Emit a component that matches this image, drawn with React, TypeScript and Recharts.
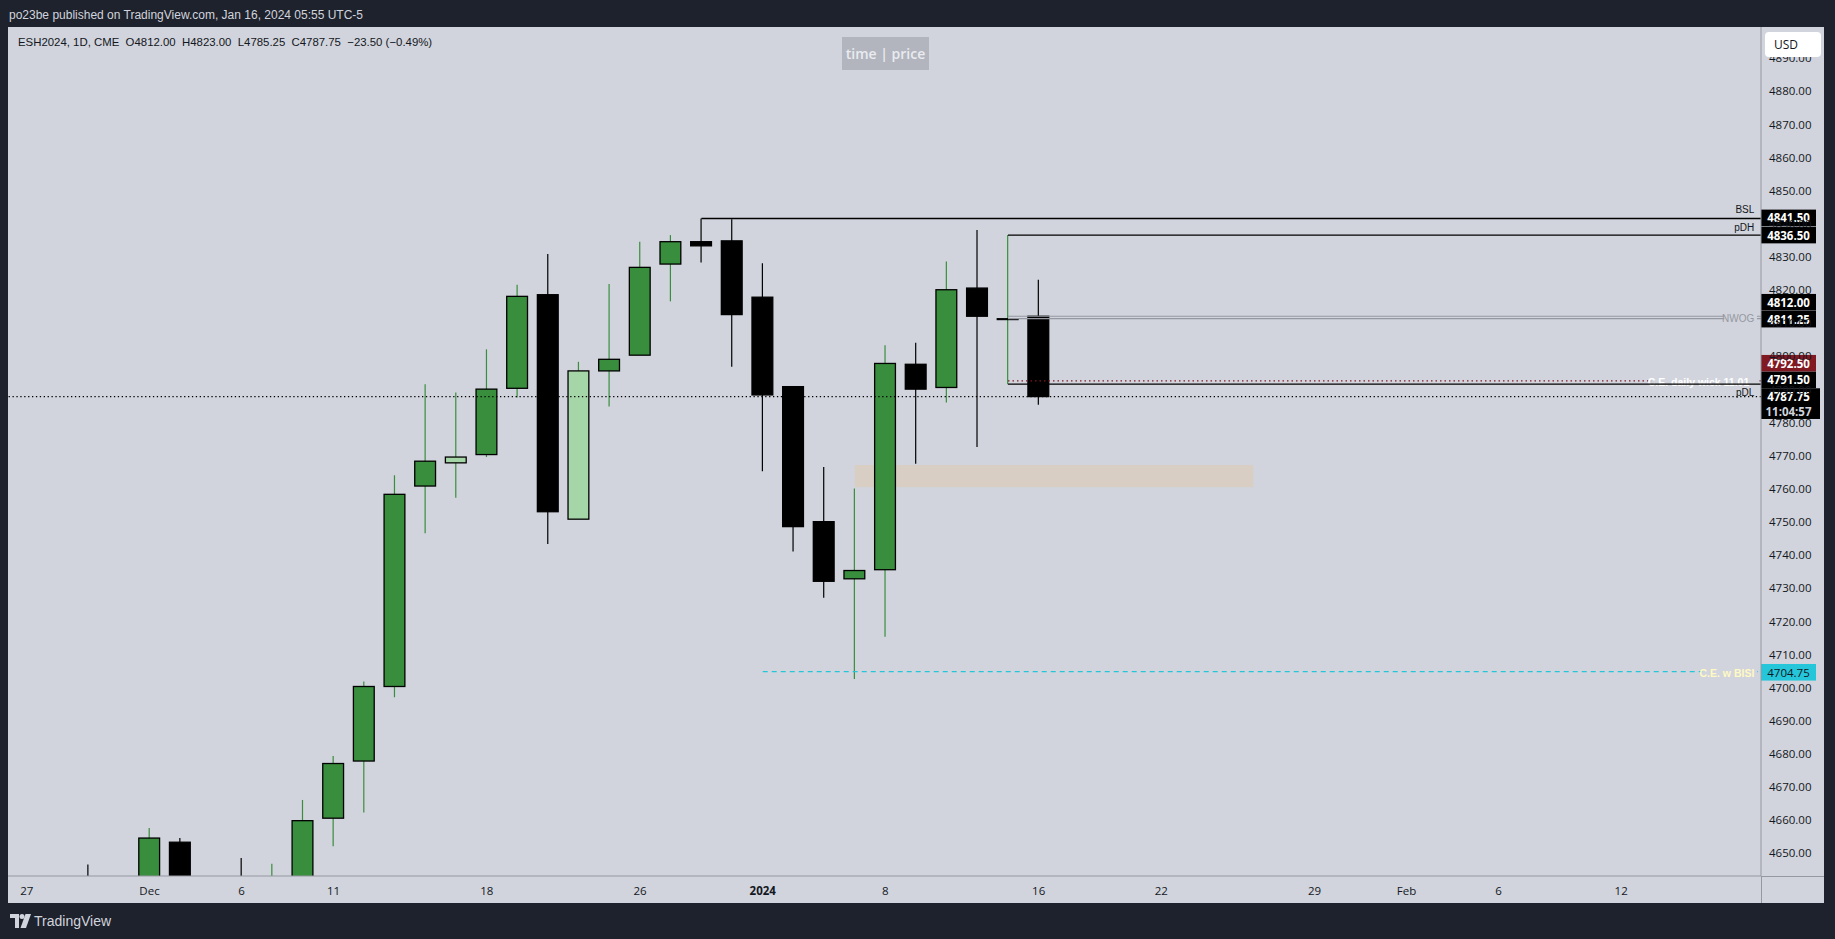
import React from 'react';
import { ComposedChart, Bar, XAxis, YAxis, ReferenceLine, ReferenceArea, Label } from 'recharts';

// daily candles ESH2024, Nov 27 2023 .. Jan 16 2024
const dates = [
  'Nov 27', 'Nov 28', 'Nov 29', 'Nov 30', 'Dec 1', 'Dec 4', 'Dec 5', 'Dec 6', 'Dec 7', 'Dec 8',
  'Dec 11', 'Dec 12', 'Dec 13', 'Dec 14', 'Dec 15', 'Dec 18', 'Dec 19', 'Dec 20', 'Dec 21', 'Dec 22',
  'Dec 26', 'Dec 27', 'Dec 28', 'Dec 29', 'Jan 2', 'Jan 3', 'Jan 4', 'Jan 5', 'Jan 8', 'Jan 9',
  'Jan 10', 'Jan 11', 'Jan 12', 'Jan 16',
];
const opens = [
  4600, 4598, 4612, 4603, 4620, 4653.25, 4630, 4638, 4616, 4640,
  4660.5, 4677.75, 4700.25, 4760.75, 4767.75, 4770.25, 4790.25, 4818.5, 4750.75, 4795.5,
  4800.25, 4827.75, 4834.5, 4834.75, 4817.75, 4790.75, 4750, 4732.75, 4735.5, 4797.5,
  4790.5, 4820.5, 4811, 4812,
];
const highs = [
  4612, 4610, 4646.5, 4625, 4657.5, 4654.5, 4640, 4648.5, 4646.75, 4666,
  4679.25, 4701.75, 4764, 4791.5, 4789, 4802, 4821.5, 4830.75, 4798.25, 4821.75,
  4834.5, 4836.5, 4841.5, 4841.25, 4828, 4790.75, 4766.5, 4760, 4803.25, 4804,
  4828.5, 4838, 4836.5, 4823,
];
const lows = [
  4588, 4590, 4600, 4590, 4610, 4620, 4615, 4612, 4612, 4633,
  4652, 4662.25, 4697, 4746.5, 4757.25, 4769.5, 4787.5, 4743.25, 4750.75, 4784.75,
  4800.25, 4816.5, 4828.25, 4796.75, 4765.25, 4741, 4727, 4702.5, 4715.25, 4767.5,
  4786, 4772.5, 4791.5, 4785.25,
];
const closes = [
  4598, 4606, 4603, 4620, 4654.5, 4632, 4633, 4614, 4640, 4659.75,
  4677, 4700.25, 4758.25, 4768.25, 4769.5, 4790, 4818, 4753, 4795.5, 4799,
  4826.75, 4834.5, 4833.25, 4812.5, 4788.25, 4748.5, 4732, 4735.25, 4797.75, 4790,
  4820, 4812, 4811.25, 4787.75,
];

// time axis: bar index -> label (future sessions continue the same index)
const timeTickIdx = [0, 4, 7, 10, 15, 20, 24, 28, 33, 37, 42, 45, 48, 52];
const timeTickText = ['27', 'Dec', '6', '11', '18', '26', '2024', '8', '16', '22', '29', 'Feb', '6', '12'];
const priceTicks = [
  4650, 4660, 4670, 4680, 4690, 4700, 4710, 4720, 4730, 4740, 4750, 4760,
  4770, 4780, 4790, 4800, 4810, 4820, 4830, 4840, 4850, 4860, 4870, 4880, 4890,
];

// levels drawn on the chart
const bsl = 4841.5;
const pdh = 4836.5;
const nwogHigh = 4812;
const nwogLow = 4811.25;
const ceWick = 4792.5;
const pdl = 4791.5;
const lastPrice = 4787.75;
const ceBisi = 4704.75;
const fvgTop = 4767.1;
const fvgBottom = 4760.4;

const xMin = -0.616;
const xMax = 56.56;
const yMin = 4643.05;
const yMax = 4899.3;

const PANE = '#d1d4dc';
const GREEN = '#388e3c';
const LIGHT = '#a5d6a7';
const TEXT = '#131722';
const AXIS = '#9598a1';
const FONT = '"Open Sans", "Liberation Sans", sans-serif';
const LFONT = '"Liberation Sans", Arial, sans-serif';

const candles = dates.map((date, i) => ({
  i,
  date,
  open: opens[i],
  high: highs[i],
  low: lows[i],
  close: closes[i],
  range: [lows[i], highs[i]],
  inside: i > 0 && highs[i] <= highs[i - 1] && lows[i] >= lows[i - 1],
}));

function Candle(props: any) {
  const { x, y, width, height, payload } = props;
  if (x == null || y == null || !payload) return null;
  const top = Math.min(y, y + height);
  const h = Math.abs(height);
  const { open, high, low, close, inside } = payload;
  const py = (v: number) => top + ((high - v) / (high - low)) * h;
  const up = close >= open;
  const cx = x + width / 2;
  const bTop = py(Math.max(open, close));
  const bBot = py(Math.min(open, close));
  const fill = up ? (inside ? LIGHT : GREEN) : '#000';
  return (
    <g>
      <line x1={cx} x2={cx} y1={top} y2={top + h} stroke={up ? GREEN : '#000'} strokeWidth={1.2} />
      <rect x={x + 0.6} y={bTop} width={width - 1.2} height={Math.max(bBot - bTop, 0.01)}
        fill={fill} stroke="#000" strokeWidth={1.3} />
    </g>
  );
}

const TimeTick = (props: any) => {
  const { x, y, payload } = props;
  const k = timeTickIdx.indexOf(payload.value);
  const label = k >= 0 ? timeTickText[k] : '';
  return (
    <text x={x} y={y + 14} textAnchor="middle" dominantBaseline="central" fontSize={11.5}
      fontFamily={FONT} fontWeight={label === '2024' ? 700 : 400} fill={TEXT}>{label}</text>
  );
};

const PriceTick = (props: any) => {
  const { x, y, payload } = props;
  return (
    <text x={x + 8} y={y} dominantBaseline="central" fontSize={11.5} fontFamily={FONT} fill={TEXT}>
      {Number(payload.value).toFixed(2)}
    </text>
  );
};

// price tag on the axis, right of the line end
function tag(text: string, bg: string, fg: string, shift = 0, sub?: string) {
  return (props: any) => {
    const vb = props.viewBox;
    const right = vb.x + vb.width;
    const cy = vb.y + shift;
    const w = sub ? 59 : 55;
    return (
      <g>
        <rect x={right} y={cy - 8.3} width={w} height={sub ? 30.7 : 16.6} fill={bg} />
        <text x={right + 27.5} y={cy} textAnchor="middle" dominantBaseline="central" fontSize={11.5}
          fontWeight={fg === '#fff' ? 700 : 400} fontFamily={FONT} fill={fg}>{text}</text>
        {sub && (
          <text x={right + 27.5} y={cy + 15} textAnchor="middle" dominantBaseline="central" fontSize={11.5}
            fontWeight={700} fontFamily={FONT} fill="#d1d4dc">{sub}</text>
        )}
      </g>
    );
  };
}

// small text at the right end of a line
function note(text: string, color: string, dy: number, opt: { size?: number; bold?: boolean; right?: number; mask?: number; maskH?: [number, number] } = {}) {
  return (props: any) => {
    const vb = props.viewBox;
    const r = opt.right ?? 6.7;
    const xr = vb.x + vb.width - r;
    return (
      <g>
        {opt.mask && (
          <rect x={xr - opt.mask} y={vb.y - (opt.maskH ? opt.maskH[0] : 2)} width={opt.mask + r - 4}
            height={opt.maskH ? opt.maskH[0] + opt.maskH[1] : 4} fill={PANE} />
        )}
        <text x={xr} y={vb.y + dy} textAnchor="end" dominantBaseline="central" fontSize={opt.size ?? 10}
          fontWeight={opt.bold ? 700 : 400} fontFamily={LFONT} fill={color}>{text}</text>
      </g>
    );
  };
}

export default function App() {
  return (
    <div style={{ position: 'absolute', left: 0, top: 0, width: 1835, height: 939, background: '#1e222d', overflow: 'hidden', fontFamily: LFONT }}>
      <div style={{ position: 'absolute', left: 9, top: 8, color: '#d1d4dc', fontSize: 12, whiteSpace: 'pre' }}>
        po23be published on TradingView.com, Jan 16, 2024 05:55 UTC-5
      </div>
      <div style={{ position: 'absolute', left: 8, top: 27, width: 1816, height: 876, background: PANE }}>
        <ComposedChart width={1816} height={876} data={candles} margin={{ top: 0, right: 0, bottom: 0, left: 0 }}>
          <XAxis dataKey="i" type="number" domain={[xMin, xMax]} allowDataOverflow ticks={timeTickIdx}
            interval={0} tick={<TimeTick />} tickLine={false} tickSize={0} tickMargin={0} height={27}
            axisLine={{ stroke: AXIS }} />
          <YAxis orientation="right" domain={[yMin, yMax]} allowDataOverflow ticks={priceTicks} interval={0}
            tick={<PriceTick />} tickLine={false} tickSize={0} tickMargin={0} width={63} axisLine={{ stroke: AXIS }} />
          <ReferenceArea x1={27} x2={40} y1={fvgBottom} y2={fvgTop} fill="#d8cec3" fillOpacity={1} stroke="none" />
          <Bar dataKey="range" barSize={22} shape={<Candle />} isAnimationActive={false} />

          <ReferenceLine segment={[{ x: 24, y: ceBisi }, { x: xMax, y: ceBisi }]} stroke="#26c6da" strokeWidth={1.2} strokeDasharray="5 4">
            <Label content={note('C.E. w BISI', '#fff9c4', 1.4, { size: 10.5, bold: true, mask: 52, maskH: [2, 2] })} />
            <Label content={tag(ceBisi.toFixed(2), '#26c6da', TEXT, 0.7)} />
          </ReferenceLine>
          <ReferenceLine y={lastPrice} stroke="#000" strokeWidth={1.2} strokeDasharray="1.3 2.6">
            <Label content={tag(lastPrice.toFixed(2), '#000', '#fff', 0, '11:04:57')} />
          </ReferenceLine>
          <ReferenceLine segment={[{ x: 32, y: ceWick }, { x: xMax, y: ceWick }]} stroke="#801922" strokeWidth={1.2} strokeDasharray="1.5 3">
            <Label content={note('C.E. daily wick 11.01', '#ffffff', 0.8, { size: 10.5, bold: true, right: 11.7, mask: 98, maskH: [2, 1.5] })} />
            <Label content={tag(ceWick.toFixed(2), '#801922', '#fff', -17.6)} />
          </ReferenceLine>
          <ReferenceLine segment={[{ x: 32, y: pdl }, { x: xMax, y: pdl }]} stroke="#000" strokeWidth={1.3}>
            <Label content={note('pDL', TEXT, 8.5)} />
            <Label content={tag(pdl.toFixed(2), '#000', '#fff', -4.2)} />
          </ReferenceLine>
          <ReferenceLine segment={[{ x: 32, y: nwogHigh }, { x: xMax, y: nwogHigh }]} stroke={AXIS} strokeWidth={1.2}>
            <Label content={tag(nwogHigh.toFixed(2), '#000', '#fff', -14)} />
          </ReferenceLine>
          <ReferenceLine segment={[{ x: 32, y: nwogLow }, { x: xMax, y: nwogLow }]} stroke={AXIS} strokeWidth={1.2}>
            <Label content={note('NWOG', AXIS, -0.5, { size: 10, mask: 30, maskH: [4, 2] })} />
            <Label content={tag(nwogLow.toFixed(2), '#000', '#fff', 0.4)} />
          </ReferenceLine>
          <ReferenceLine segment={[{ x: 32, y: pdh }, { x: xMax, y: pdh }]} stroke="#000" strokeWidth={1.3}>
            <Label content={note('pDH', TEXT, -8)} />
            <Label content={tag(pdh.toFixed(2), '#000', '#fff', 0)} />
          </ReferenceLine>
          <ReferenceLine segment={[{ x: 22, y: bsl }, { x: xMax, y: bsl }]} stroke="#000" strokeWidth={1.3}>
            <Label content={note('BSL', TEXT, -8.6)} />
            <Label content={tag(bsl.toFixed(2), '#000', '#fff', -0.6)} />
          </ReferenceLine>
        </ComposedChart>

        <div style={{ position: 'absolute', left: 1753, top: 849, width: 1, height: 27, background: AXIS }} />
        <div style={{ position: 'absolute', left: 1753, top: 849, width: 63, height: 1, background: AXIS }} />

        <div style={{ position: 'absolute', left: 10, top: 9, color: TEXT, fontSize: 11.4, whiteSpace: 'pre' }}>
          {'ESH2024, 1D, CME  O4812.00  H4823.00  L4785.25  C4787.75  \u221223.50 (\u22120.49%)'}
        </div>
        <div style={{ position: 'absolute', left: 834, top: 10, width: 87, height: 33, background: '#b2b5be', color: '#e9ebf0', fontSize: 14, fontWeight: 600, fontFamily: FONT, display: 'flex', alignItems: 'center', justifyContent: 'center' }}>
          time | price
        </div>
        <div style={{ position: 'absolute', left: 1757, top: 5, width: 56, height: 25, background: '#fff', borderRadius: 4, color: TEXT, fontSize: 12, fontFamily: FONT, display: 'flex', alignItems: 'center', paddingLeft: 9, boxSizing: 'border-box' }}>
          USD
        </div>
      </div>
      <div style={{ position: 'absolute', left: 10, top: 913, display: 'flex', alignItems: 'center', color: '#d1d4dc', fontSize: 14 }}>
        <svg width={21} height={14} viewBox="0 0 21 14" style={{ marginRight: 3 }}>
          <path d="M0 0h9v14H5V4H0z" fill="#d1d4dc" />
          <circle cx={12} cy={2.5} r={2.5} fill="#d1d4dc" />
          <path d="M15.5 0H21l-5 14h-5.5z" fill="#d1d4dc" />
        </svg>
        TradingView
      </div>
    </div>
  );
}
